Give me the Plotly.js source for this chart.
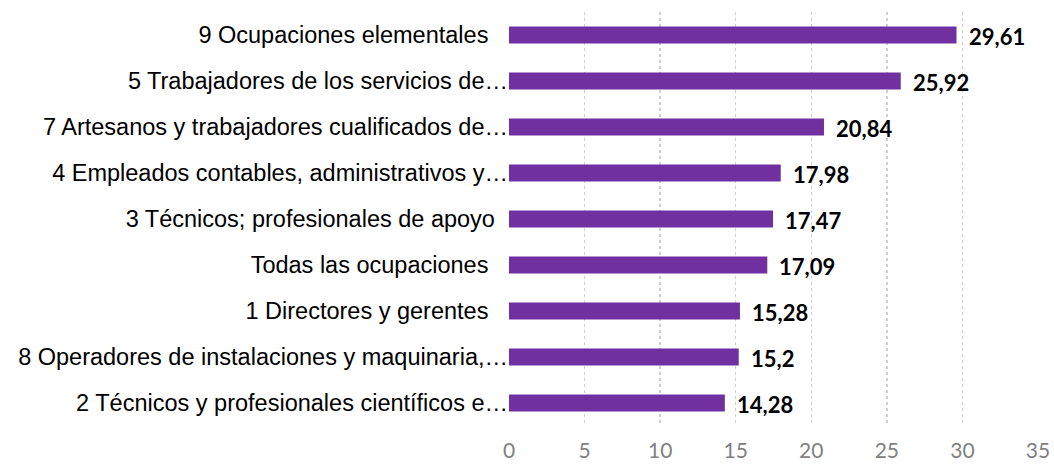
<!DOCTYPE html>
<html><head><meta charset="utf-8">
<script src="https://cdn.plot.ly/plotly-3.0.1.min.js"></script>
<style>html,body{margin:0;padding:0;background:#fff}#c{width:1054px;height:468px}</style>
</head><body><div id="c"></div>
<script>
var categories = [
  "9 Ocupaciones elementales\u00a0\u00a0\u00a0",
  "5 Trabajadores de los servicios de…",
  "7 Artesanos y trabajadores cualificados de…",
  "4 Empleados contables, administrativos y…",
  "3 Técnicos; profesionales de apoyo\u00a0\u00a0",
  "Todas las ocupaciones\u00a0\u00a0\u00a0",
  "1 Directores y gerentes\u00a0\u00a0\u00a0",
  "8 Operadores de instalaciones y maquinaria,…",
  "2 Técnicos y profesionales científicos e…"
];
var values = [29.61, 25.92, 20.84, 17.98, 17.47, 17.09, 15.28, 15.2, 14.28];
var tickVals = [0, 5, 10, 15, 20, 25, 30, 35];

var labels = values.map(function(v){ return String(v).replace('.', ','); });

var annotations = values.map(function(v, i){
  return {x: v, y: categories[i], xref: 'x', yref: 'y', text: '<b>' + labels[i] + '</b>',
    showarrow: false, xanchor: 'left', xshift: 10, yshift: -1,
    font: {family: 'Lato, "Open Sans", sans-serif', size: 22, color: '#000'}};
});

Plotly.newPlot('c', [{
  type: 'bar', orientation: 'h', x: values, y: categories,
  marker: {color: '#7030A0'}, width: 0.37, hoverinfo: 'none'
}], {
  width: 1054, height: 468,
  margin: {l: 509, r: 16, t: 12, b: 42},
  paper_bgcolor: '#fff', plot_bgcolor: '#fff',
  showlegend: false,
  xaxis: {range: [0, 35], tickvals: tickVals, showgrid: true, gridcolor: '#d0d0d0', griddash: 'dot', gridwidth: 1.5,
    zeroline: false, showline: false, ticks: '', ticklabelstandoff: 10,
    tickfont: {family: 'Lato, "Open Sans", sans-serif', size: 21, color: '#808080'}},
  yaxis: {autorange: 'reversed', showgrid: false, zeroline: false, showline: false, ticks: '', ticklabelstandoff: 0,
    tickfont: {family: '"Liberation Sans", Arial, sans-serif', size: 23.5, color: '#000'}},
  annotations: annotations
}, {displayModeBar: false, staticPlot: true});
</script></body></html>
